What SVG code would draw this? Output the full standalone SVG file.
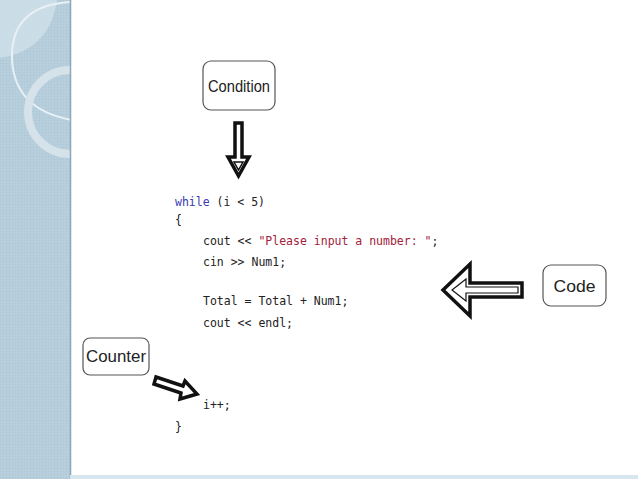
<svg xmlns="http://www.w3.org/2000/svg" width="638" height="479" viewBox="0 0 638 479">
<defs>
<pattern id="dots" width="3" height="3" patternUnits="userSpaceOnUse"><rect width="3" height="3" fill="#b7cfdc"/><rect width="1" height="1" fill="#a9c4d3"/></pattern>
<clipPath id="pc"><rect x="0" y="0" width="70" height="479"/></clipPath>
</defs>
<style>
.box{fill:#fff;stroke:#555;stroke-width:1.2}
.lbl{font-family:"Liberation Sans",Arial,sans-serif;font-size:17px;fill:#222;text-anchor:middle}
.code{font-family:"DejaVu Sans Mono",monospace;font-size:11.5px;fill:#222}
.kw{fill:#3a3ab0}.str{fill:#a3213a}
.arr{fill:#fff;stroke:#111;stroke-width:3.5;stroke-linejoin:miter}
</style>
<rect width="638" height="479" fill="#fff"/>
<g id="panel">
<rect x="0" y="0" width="70" height="479" fill="url(#dots)"/>
<g clip-path="url(#pc)">
<path d="M0 0 H57 Q50 50 0 58 Z" fill="#d0e0ea" opacity="0.8"/>
<path d="M72 2 Q10 5 12 60 Q15 110 72 120" fill="none" stroke="#e8f0f5" stroke-width="2"/>
<circle cx="70" cy="112" r="42" fill="none" stroke="#d5e2ea" stroke-width="8"/>
</g>
<line x1="70.5" y1="0" x2="70.5" y2="479" stroke="#8aa8ba" stroke-width="1.5"/>
<rect x="70" y="475" width="568" height="4" fill="#d7e5ee"/>
</g>
<g id="condition"><rect class="box" x="203" y="61" width="72" height="49" rx="8"/><text class="lbl" x="239" y="92" textLength="62" lengthAdjust="spacingAndGlyphs">Condition</text></g>
<g id="code"><rect class="box" x="543" y="265" width="63" height="41" rx="8"/><text class="lbl" x="574.5" y="292" textLength="42" lengthAdjust="spacingAndGlyphs">Code</text></g>
<g id="counter"><rect class="box" x="83" y="338" width="66" height="37" rx="7"/><text class="lbl" x="116" y="362" textLength="60" lengthAdjust="spacingAndGlyphs">Counter</text></g>
<g id="connectors">
<path class="arr" d="M235 123 H242 V157 H249 L238.5 176 L228 157 H235 Z"/>
<path d="M234 162 H243 L238.5 170 Z" fill="none" stroke="#111" stroke-width="1.5"/>
<path class="arr" d="M522 283 V297 H470 V316 L443 290 L470 264 V283 Z"/>
<path d="M518 287 H466 V279 L452 290 L466 301 V293 H518 Z" fill="none" stroke="#111" stroke-width="1.2"/>
<path class="arr" d="M156 377 L183 386 L185 381 L197 394 L180 399 L181 393 L154 384 Z"/>
</g>
<g id="source">
<text class="code" x="175" y="206"><tspan class="kw">while</tspan> (i &lt; 5)</text>
<text class="code" x="175" y="224">{</text>
<text class="code" x="203" y="245">cout &lt;&lt; <tspan class="str">"Please input a number: "</tspan>;</text>
<text class="code" x="203" y="266">cin &gt;&gt; Num1;</text>
<text class="code" x="203" y="305">Total = Total + Num1;</text>
<text class="code" x="203" y="327">cout &lt;&lt; endl;</text>
<text class="code" x="203" y="409">i++;</text>
<text class="code" x="175" y="431">}</text>
</g>
</svg>
